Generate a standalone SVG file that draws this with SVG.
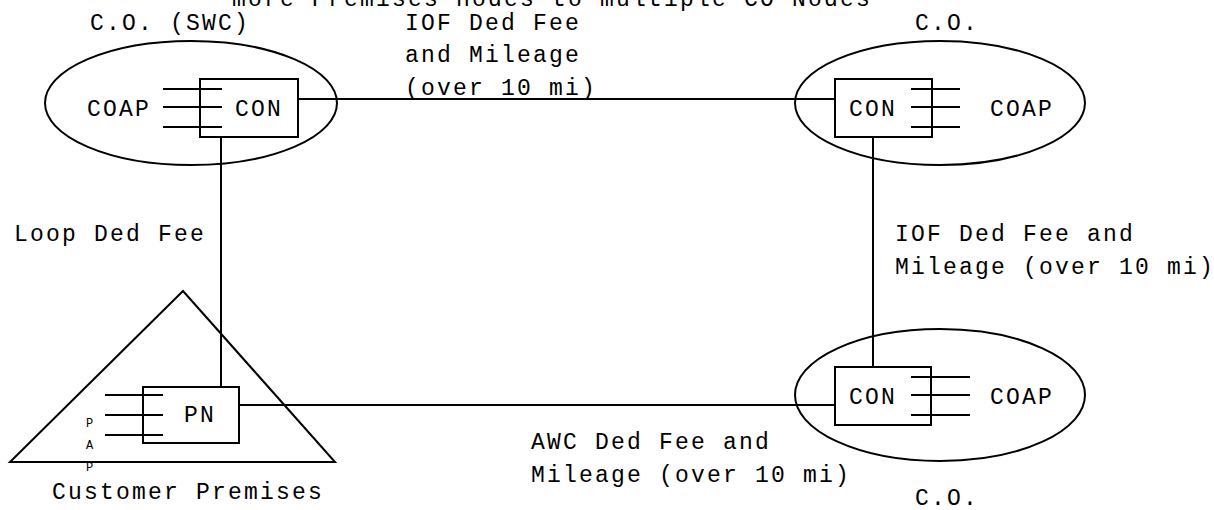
<svg xmlns="http://www.w3.org/2000/svg" width="1214" height="510" viewBox="0 0 1214 510">
<style>
text{font-family:"Liberation Mono","Courier New",monospace;font-size:23px;letter-spacing:2.2px;fill:#000}
.s{fill:none;stroke:#000;stroke-width:2}
text.sm{font-size:12px;letter-spacing:0}
</style>
<rect width="1214" height="510" fill="#fff"/>
<text x="232" y="6">more Premises nodes to multiple CO Nodes</text>
<g id="co-swc">
<ellipse class="s" cx="191" cy="103" rx="146" ry="62"/>
<rect class="s" x="200" y="79" width="98" height="58"/>
<path class="s" d="M163 89H222M163 107H222M163 127H222"/>
<text x="87" y="116">COAP</text>
<text x="235" y="116">CON</text>
<text x="90" y="30">C.O. (SWC)</text>
</g>
<g id="co-top-right">
<ellipse class="s" cx="940" cy="103" rx="145" ry="62"/>
<rect class="s" x="835" y="79" width="97" height="58"/>
<path class="s" d="M911 89H960M911 107H960M911 127H960"/>
<text x="849" y="116">CON</text>
<text x="990" y="116">COAP</text>
<text x="915" y="30">C.O.</text>
</g>
<g id="co-bottom-right">
<ellipse class="s" cx="940" cy="395" rx="145" ry="66"/>
<rect class="s" x="835" y="367" width="96" height="58"/>
<path class="s" d="M911 377H970M911 395H970M911 415H970"/>
<text x="849" y="404">CON</text>
<text x="990" y="404">COAP</text>
<text x="915" y="505">C.O.</text>
</g>
<g id="premises">
<path class="s" d="M183 291L335 462H10Z"/>
<rect class="s" x="143" y="387" width="96" height="56"/>
<path class="s" d="M105 395H163M105 415H163M105 435H163"/>
<text x="184" y="422">PN</text>
<text class="sm" x="86" y="427">P</text>
<text class="sm" x="86" y="449">A</text>
<text class="sm" x="86" y="471">P</text>
<text x="52" y="499">Customer Premises</text>
</g>
<g id="connectors">
<path class="s" d="M298 99H835"/>
<path class="s" d="M873 137V367"/>
<path class="s" d="M221 137V387"/>
<path class="s" d="M239 405H835"/>
</g>
<g id="labels">
<text x="405" y="30">IOF Ded Fee</text>
<text x="405" y="62">and Mileage</text>
<text x="405" y="95">(over 10 mi)</text>
<text x="14" y="241">Loop Ded Fee</text>
<text x="895" y="241">IOF Ded Fee and</text>
<text x="895" y="274">Mileage (over 10 mi)</text>
<text x="531" y="449">AWC Ded Fee and</text>
<text x="531" y="482">Mileage (over 10 mi)</text>
</g>
</svg>
